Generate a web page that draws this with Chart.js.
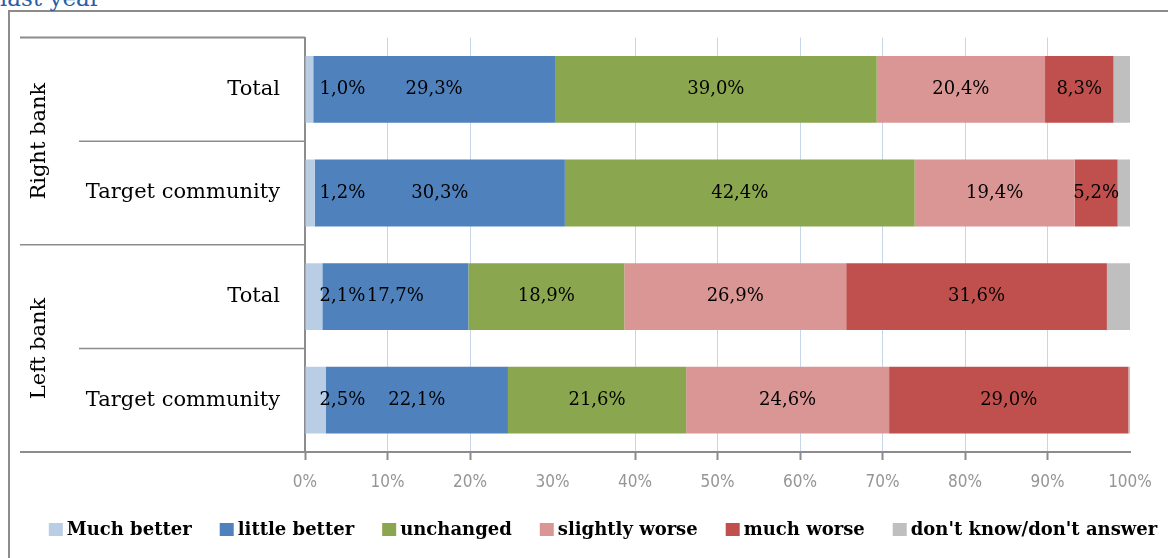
<!DOCTYPE html>
<html>
<head>
<meta charset="utf-8">
<script src="https://cdn.jsdelivr.net/npm/chart.js@4.4.1/dist/chart.umd.min.js"></script>
<style>
  html, body { margin: 0; padding: 0; background: #fff; overflow: hidden; }
  #wrap { position: relative; width: 1168px; height: 558px; overflow: hidden; }
  #frame { position: absolute; left: 8px; top: 10px; width: 1220px; height: 620px; border: 2px solid #8c8c8c; box-sizing: border-box; }
  #heading { position: absolute; left: 0; top: -15px; font: 23px "DejaVu Serif", serif; color: #2a5ea6; }
  canvas { position: absolute; left: 0; top: 0; }
</style>
</head>
<body>
<div id="wrap">
  <div id="frame"></div>
  <div id="heading">last year</div>
  <canvas id="myBarChart" width="1168" height="558"></canvas>
</div>
<script>
const categories = ["Total", "Target community", "Total", "Target community"];
const groups = ["Right bank", "Left bank"];
const seriesNames = ["Much better", "little better", "unchanged", "slightly worse", "much worse", "don't know/don't answer"];
const muchBetter = [1.0, 1.2, 2.1, 2.5];
const littleBetter = [29.3, 30.3, 17.7, 22.1];
const unchanged = [39.0, 42.4, 18.9, 21.6];
const slightlyWorse = [20.4, 19.4, 26.9, 24.6];
const muchWorse = [8.3, 5.2, 31.6, 29.0];
const dontKnow = [2.0, 1.5, 2.8, 0.2];
const tickLabels = ["0%", "10%", "20%", "30%", "40%", "50%", "60%", "70%", "80%", "90%", "100%"];
const colors = ["#B9CDE5", "#4F81BD", "#8AA64E", "#D99694", "#C0504D", "#BFBFBF"];

// gridlines that the original leaves out
const noGrid = [0, 30, 100];
const noTick = [30, 100];

const serif = "'DejaVu Serif', serif";

// table lines + group names on the left
const tablePlugin = {
  id: "tablePlugin",
  afterDraw(chart) {
    const ctx = chart.ctx;
    const y = chart.scales.y;
    const area = chart.chartArea;
    const rows = categories.map((c, i) => y.getPixelForValue(i));
    const mid = (a, b) => (a + b) / 2;

    ctx.save();
    ctx.strokeStyle = "#8c8c8c";
    const line = (x1, yy, w) => {
      ctx.lineWidth = w;
      ctx.beginPath();
      ctx.moveTo(x1, yy);
      ctx.lineTo(area.left, yy);
      ctx.stroke();
    };
    line(20, area.top, 2);
    line(79, mid(rows[0], rows[1]), 1.5);
    line(20, mid(rows[1], rows[2]), 1.5);
    line(79, mid(rows[2], rows[3]), 1.5);
    line(20, area.bottom, 2);

    ctx.fillStyle = "#000";
    ctx.font = "21px " + serif;
    ctx.textAlign = "center";
    ctx.textBaseline = "middle";
    groups.forEach((g, i) => {
      const cy = mid(rows[i * 2], rows[i * 2 + 1]);
      ctx.save();
      ctx.translate(40, cy);
      ctx.rotate(-Math.PI / 2);
      ctx.fillText(g, 0, 0);
      ctx.restore();
    });
    ctx.restore();
  },
};

// value labels inside the bars
const labelPlugin = {
  id: "labelPlugin",
  afterDatasetsDraw(chart) {
    const ctx = chart.ctx;
    ctx.save();
    ctx.font = "18px " + serif;
    ctx.fillStyle = "#000";
    ctx.textBaseline = "middle";
    chart.data.datasets.forEach((ds, di) => {
      if (di === chart.data.datasets.length - 1) return;
      chart.getDatasetMeta(di).data.forEach((bar, i) => {
        const txt = ds.data[i].toFixed(1).replace(".", ",") + "%";
        if (di === 0) {
          ctx.textAlign = "left";
          ctx.fillText(txt, bar.base + 14, bar.y);
        } else {
          ctx.textAlign = "center";
          ctx.fillText(txt, (bar.x + bar.base) / 2, bar.y);
        }
      });
    });
    ctx.restore();
  },
};

// legend row under the axis
const legendPlugin = {
  id: "legendPlugin",
  afterDraw(chart) {
    const ctx = chart.ctx;
    const sets = chart.data.datasets;
    ctx.save();
    ctx.font = "bold 18px " + serif;
    ctx.textBaseline = "middle";
    ctx.textAlign = "left";
    const box = 14, gap = 4, space = 28;
    const widths = sets.map((ds) => box + gap + ctx.measureText(ds.label).width);
    const total = widths.reduce((a, b) => a + b, 0) + space * (sets.length - 1);
    let x = 603 - total / 2;
    sets.forEach((ds, i) => {
      ctx.fillStyle = ds.backgroundColor;
      ctx.fillRect(x, 523, box, 13);
      ctx.fillStyle = "#000";
      ctx.fillText(ds.label, x + box + gap, 530);
      x += widths[i] + space;
    });
    ctx.restore();
  },
};

window.onload = function () {
  const ctx = document.getElementById("myBarChart").getContext("2d");
  const values = [muchBetter, littleBetter, unchanged, slightlyWorse, muchWorse, dontKnow];

  const data = {
    labels: categories,
    datasets: values.map((v, i) => ({
      label: seriesNames[i],
      data: v,
      backgroundColor: colors[i],
      borderWidth: 0,
      barPercentage: 0.645,
      categoryPercentage: 1,
    })),
  };

  new Chart(ctx, {
    type: "bar",
    data: data,
    plugins: [tablePlugin, labelPlugin, legendPlugin],
    options: {
      responsive: false,
      animation: false,
      devicePixelRatio: 1,
      indexAxis: "y",
      layout: { padding: { left: 20, top: 35, right: 38, bottom: 0 } },
      plugins: {
        legend: { display: false },
        title: { display: false },
        tooltip: { enabled: false },
      },
      scales: {
        x: {
          stacked: true,
          min: 0,
          max: 100,
          afterFit: (s) => { s.height = 106; },
          ticks: {
            stepSize: 10,
            autoSkip: false,
            maxRotation: 0,
            padding: 12,
            color: "#959595",
            font: { family: "'DejaVu Sans Condensed', 'Liberation Sans Narrow', 'Liberation Sans', sans-serif", size: 17 },
            callback: (v, i) => tickLabels[i],
          },
          grid: {
            color: (c) => (noGrid.includes(c.tick && c.tick.value) ? "rgba(0,0,0,0)" : "#C6D5E8"),
            borderDash: [5, 4],
            tickBorderDash: [],
            tickColor: (c) => (noTick.includes(c.tick && c.tick.value) ? "rgba(0,0,0,0)" : "#8c8c8c"),
            tickLength: 8,
            tickWidth: 2,
            lineWidth: 1,
          },
          border: { color: "#8c8c8c", width: 2 },
        },
        y: {
          stacked: true,
          afterFit: (s) => { s.width = 285; },
          ticks: {
            padding: 25,
            color: "#000",
            font: { family: "'DejaVu Serif', serif", size: 21 },
          },
          grid: { display: false, drawTicks: false },
          border: { color: "#8c8c8c", width: 2 },
        },
      },
    },
  });
};
</script>
</body>
</html>
